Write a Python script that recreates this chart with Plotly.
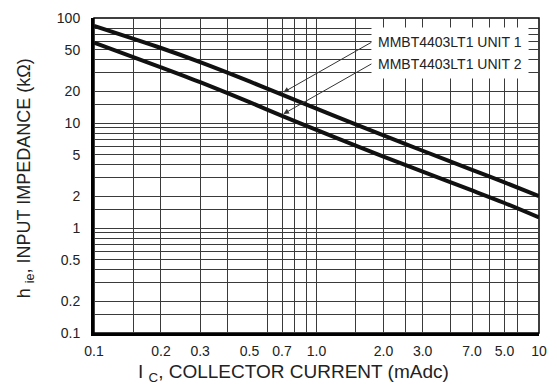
import numpy as np
import plotly.graph_objects as go

# Collector current (mAdc) and small-signal input impedance h_ie (kOhm)
current_ma = [0.1, 0.2, 0.3, 0.5, 0.7, 1.0, 1.5, 2.0, 3.0, 5.0, 7.0, 10.0]
hie_unit1 = [84.1, 51.8, 38.0, 24.9, 18.6, 13.7, 9.7, 7.62, 5.44, 3.58, 2.72, 2.01]
hie_unit2 = [58.2, 33.9, 24.5, 15.8, 11.7, 8.61, 6.10, 4.79, 3.44, 2.28, 1.73, 1.26]
unit_names = ["MMBT4403LT1 UNIT 1", "MMBT4403LT1 UNIT 2"]

# Axis labels as printed on the sheet
x_tick_vals = [0.1, 0.2, 0.3, 0.5, 0.7, 1.0, 2.0, 3.0, 5.0, 7.0, 10.0]
x_tick_text = ["0.1", "0.2", "0.3", "0.5", "0.7", "1.0", "2.0", "3.0", "7.0", "5.0", "10"]
y_tick_vals = [0.1, 0.2, 0.5, 1, 2, 5, 10, 20, 50, 100]
y_tick_text = ["0.1", "0.2", "0.5", "1", "2", "5", "10", "20", "50", "100"]

# Grid rulings
x_grid = [0.15, 0.2, 0.3, 0.4, 0.6, 0.7, 0.8, 0.9, 1.0, 1.5, 2, 2.5, 3, 4, 5, 6, 7, 8]
y_grid = [0.15, 0.2, 0.3, 0.4, 0.5, 0.6, 0.7, 0.8, 0.9, 1, 1.5, 2, 3, 4, 5, 6, 7, 8, 9,
          10, 15, 20, 30, 40, 50, 60, 70, 80]

# Where each callout arrow touches its curve (current, impedance)
arrow_tips = [(0.71, 19.6), (0.71, 12.2)]

FONT = "Liberation Sans, Arial, sans-serif"
GRID = "#3a3a3a"

fig = go.Figure()
for vals, name in zip([hie_unit1, hie_unit2], unit_names):
    fig.add_trace(go.Scatter(
        x=current_ma, y=vals, mode="lines", name=name,
        line=dict(color="#111111", width=4, shape="spline", smoothing=0.8),
        showlegend=False, hoverinfo="skip",
    ))

axis_common = dict(
    type="log", showgrid=False, zeroline=False,
    showline=True, linecolor="#000000", linewidth=3,
    ticks="", tickfont=dict(family=FONT, size=14, color="#222222"),
)

fig.update_xaxes(
    **axis_common, range=[-1, 1],
    tickmode="array", tickvals=x_tick_vals, ticktext=x_tick_text,
    ticklabelstandoff=3,
    minor=dict(tickmode="array", tickvals=x_grid, showgrid=True,
               gridcolor=GRID, gridwidth=1, ticks=""),
)
fig.update_yaxes(
    **axis_common, range=[-1, 2],
    tickmode="array", tickvals=y_tick_vals, ticktext=y_tick_text,
    ticklabelstandoff=8,
    minor=dict(tickmode="array", tickvals=y_grid, showgrid=True,
               gridcolor=GRID, gridwidth=1, ticks=""),
)

# Thin frame on the top and right edges
fig.add_shape(type="rect", xref="paper", yref="paper", x0=0, y0=0, x1=1, y1=1,
              line=dict(color="#000000", width=1.5), layer="below")

annotations = []
# Unit labels on a white panel, each with an arrow down to its curve
for name, (xc, yc) in zip(unit_names, arrow_tips):
    annotations.append(dict(
        x=np.log10(xc), y=np.log10(yc), xref="x", yref="y",
        ax=88, ay=-50, xanchor="left", yanchor="middle",
        text=name, font=dict(family=FONT, size=14, color="#222222"),
        bgcolor="#ffffff", borderpad=6,
        showarrow=True, arrowhead=2, arrowsize=1.1, arrowwidth=1,
        arrowcolor="#333333",
    ))
# Axis titles
annotations.append(dict(
    xref="paper", yref="paper", x=0.448, y=-0.128, xanchor="center", yanchor="middle",
    showarrow=False, text="I <sub>C</sub>, COLLECTOR CURRENT (mAdc)",
    font=dict(family=FONT, size=19, color="#222222"),
))
annotations.append(dict(
    xref="paper", yref="paper", x=-0.1545, y=0.492, xanchor="center", yanchor="middle",
    showarrow=False, textangle=-90, text="h <sub>ie</sub>, INPUT IMPEDANCE (kΩ)",
    font=dict(family=FONT, size=18, color="#222222"),
))

fig.update_layout(
    width=557, height=392,
    margin=dict(l=94, r=10, t=14, b=59),
    paper_bgcolor="#ffffff", plot_bgcolor="#ffffff",
    annotations=annotations,
)

fig.write_html("out.html")
